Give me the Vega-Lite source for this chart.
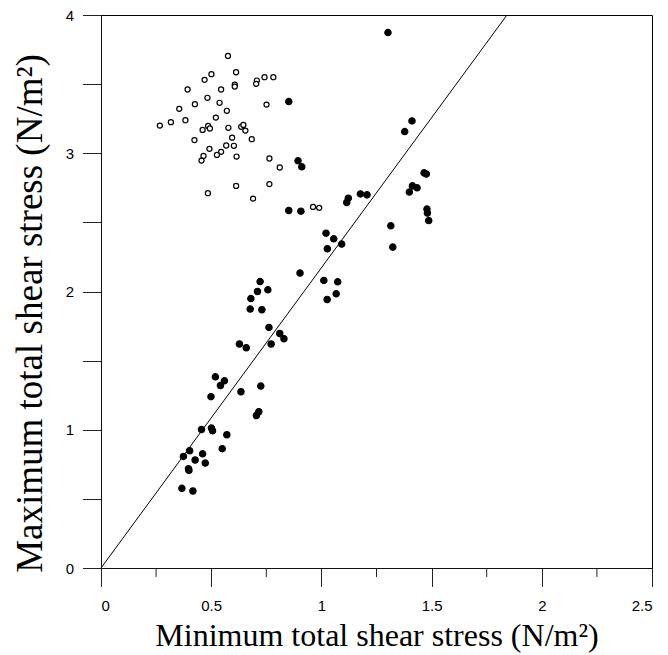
{
  "$schema": "https://vega.github.io/schema/vega-lite/v6.json",
  "autosize": {"type": "none"},
  "padding": {"left": 101, "top": 15, "right": 16, "bottom": 87},
  "width": 551,
  "height": 553,
  "background": "white",
  "config": {
    "view": {"stroke": "#000000", "strokeWidth": 1},
    "axis": {
      "grid": false,
      "domainColor": "#111111",
      "ticks": true,
      "tickColor": "#222222",
      "tickWidth": 1,
      "tickSize": 18.5,
      "labelColor": "#000000",
      "labelFont": "Liberation Sans",
      "labelFontSize": 15,
      "titleFont": "Liberation Serif",
      "titleFontSize": 32,
      "titleFontWeight": "normal",
      "titleColor": "#000000"
    }
  },
  "datasets": {
    "pts": [
      {"min": 0.576, "max": 3.704, "series": "open"},
      {"min": 0.613, "max": 3.586, "series": "open"},
      {"min": 0.501, "max": 3.572, "series": "open"},
      {"min": 0.470, "max": 3.531, "series": "open"},
      {"min": 0.607, "max": 3.496, "series": "open"},
      {"min": 0.607, "max": 3.482, "series": "open"},
      {"min": 0.707, "max": 3.526, "series": "open"},
      {"min": 0.704, "max": 3.502, "series": "open"},
      {"min": 0.742, "max": 3.550, "series": "open"},
      {"min": 0.782, "max": 3.550, "series": "open"},
      {"min": 0.393, "max": 3.461, "series": "open"},
      {"min": 0.545, "max": 3.461, "series": "open"},
      {"min": 0.483, "max": 3.401, "series": "open"},
      {"min": 0.538, "max": 3.365, "series": "open"},
      {"min": 0.426, "max": 3.355, "series": "open"},
      {"min": 0.355, "max": 3.321, "series": "open"},
      {"min": 0.571, "max": 3.307, "series": "open"},
      {"min": 0.751, "max": 3.352, "series": "open"},
      {"min": 0.521, "max": 3.258, "series": "open"},
      {"min": 0.267, "max": 3.200, "series": "open"},
      {"min": 0.317, "max": 3.225, "series": "open"},
      {"min": 0.383, "max": 3.239, "series": "open"},
      {"min": 0.486, "max": 3.198, "series": "open"},
      {"min": 0.494, "max": 3.179, "series": "open"},
      {"min": 0.461, "max": 3.169, "series": "open"},
      {"min": 0.578, "max": 3.184, "series": "open"},
      {"min": 0.636, "max": 3.191, "series": "open"},
      {"min": 0.646, "max": 3.205, "series": "open"},
      {"min": 0.655, "max": 3.164, "series": "open"},
      {"min": 0.424, "max": 3.095, "series": "open"},
      {"min": 0.595, "max": 3.113, "series": "open"},
      {"min": 0.684, "max": 3.102, "series": "open"},
      {"min": 0.568, "max": 3.056, "series": "open"},
      {"min": 0.603, "max": 3.054, "series": "open"},
      {"min": 0.492, "max": 3.032, "series": "open"},
      {"min": 0.545, "max": 3.010, "series": "open"},
      {"min": 0.526, "max": 2.988, "series": "open"},
      {"min": 0.615, "max": 2.976, "series": "open"},
      {"min": 0.465, "max": 2.981, "series": "open"},
      {"min": 0.456, "max": 2.947, "series": "open"},
      {"min": 0.764, "max": 2.962, "series": "open"},
      {"min": 0.811, "max": 2.897, "series": "open"},
      {"min": 0.613, "max": 2.764, "series": "open"},
      {"min": 0.764, "max": 2.777, "series": "open"},
      {"min": 0.485, "max": 2.711, "series": "open"},
      {"min": 0.690, "max": 2.672, "series": "open"},
      {"min": 0.962, "max": 2.612, "series": "open"},
      {"min": 0.990, "max": 2.605, "series": "open"},
      {"min": 0.852, "max": 3.374, "series": "filled"},
      {"min": 0.894, "max": 2.945, "series": "filled"},
      {"min": 0.911, "max": 2.902, "series": "filled"},
      {"min": 0.852, "max": 2.586, "series": "filled"},
      {"min": 0.907, "max": 2.581, "series": "filled"},
      {"min": 1.122, "max": 2.675, "series": "filled"},
      {"min": 1.115, "max": 2.644, "series": "filled"},
      {"min": 1.177, "max": 2.706, "series": "filled"},
      {"min": 1.207, "max": 2.699, "series": "filled"},
      {"min": 1.413, "max": 2.764, "series": "filled"},
      {"min": 1.434, "max": 2.750, "series": "filled"},
      {"min": 1.399, "max": 2.719, "series": "filled"},
      {"min": 1.479, "max": 2.596, "series": "filled"},
      {"min": 1.481, "max": 2.567, "series": "filled"},
      {"min": 1.487, "max": 2.513, "series": "filled"},
      {"min": 1.315, "max": 2.475, "series": "filled"},
      {"min": 1.324, "max": 2.321, "series": "filled"},
      {"min": 1.021, "max": 2.422, "series": "filled"},
      {"min": 1.056, "max": 2.381, "series": "filled"},
      {"min": 1.027, "max": 2.309, "series": "filled"},
      {"min": 1.092, "max": 2.343, "series": "filled"},
      {"min": 0.903, "max": 2.133, "series": "filled"},
      {"min": 1.011, "max": 2.080, "series": "filled"},
      {"min": 1.074, "max": 2.070, "series": "filled"},
      {"min": 1.067, "max": 1.983, "series": "filled"},
      {"min": 1.026, "max": 1.942, "series": "filled"},
      {"min": 1.411, "max": 3.234, "series": "filled"},
      {"min": 1.378, "max": 3.157, "series": "filled"},
      {"min": 1.466, "max": 2.858, "series": "filled"},
      {"min": 1.476, "max": 2.850, "series": "filled"},
      {"min": 1.302, "max": 3.873, "series": "filled"},
      {"min": 0.722, "max": 2.072, "series": "filled"},
      {"min": 0.710, "max": 2.000, "series": "filled"},
      {"min": 0.757, "max": 2.012, "series": "filled"},
      {"min": 0.680, "max": 1.949, "series": "filled"},
      {"min": 0.677, "max": 1.873, "series": "filled"},
      {"min": 0.730, "max": 1.868, "series": "filled"},
      {"min": 0.762, "max": 1.740, "series": "filled"},
      {"min": 0.811, "max": 1.696, "series": "filled"},
      {"min": 0.830, "max": 1.658, "series": "filled"},
      {"min": 0.772, "max": 1.620, "series": "filled"},
      {"min": 0.628, "max": 1.620, "series": "filled"},
      {"min": 0.659, "max": 1.593, "series": "filled"},
      {"min": 0.519, "max": 1.383, "series": "filled"},
      {"min": 0.560, "max": 1.354, "series": "filled"},
      {"min": 0.542, "max": 1.320, "series": "filled"},
      {"min": 0.725, "max": 1.316, "series": "filled"},
      {"min": 0.499, "max": 1.239, "series": "filled"},
      {"min": 0.635, "max": 1.275, "series": "filled"},
      {"min": 0.716, "max": 1.130, "series": "filled"},
      {"min": 0.705, "max": 1.103, "series": "filled"},
      {"min": 0.456, "max": 1.002, "series": "filled"},
      {"min": 0.501, "max": 1.012, "series": "filled"},
      {"min": 0.506, "max": 0.993, "series": "filled"},
      {"min": 0.571, "max": 0.964, "series": "filled"},
      {"min": 0.550, "max": 0.863, "series": "filled"},
      {"min": 0.402, "max": 0.848, "series": "filled"},
      {"min": 0.374, "max": 0.807, "series": "filled"},
      {"min": 0.461, "max": 0.826, "series": "filled"},
      {"min": 0.427, "max": 0.781, "series": "filled"},
      {"min": 0.473, "max": 0.759, "series": "filled"},
      {"min": 0.397, "max": 0.718, "series": "filled"},
      {"min": 0.399, "max": 0.706, "series": "filled"},
      {"min": 0.367, "max": 0.576, "series": "filled"},
      {"min": 0.417, "max": 0.557, "series": "filled"}
    ],
    "fit": [
      {"min": 0, "max": 0},
      {"min": 1.842, "max": 4}
    ],
    "xminor": [{"v": 0.25}, {"v": 0.75}, {"v": 1.25}, {"v": 1.75}, {"v": 2.25}]
  },
  "layer": [
    {
      "data": {"name": "pts"},
      "mark": {"type": "point", "shape": "circle", "filled": true, "stroke": "#000000", "strokeWidth": 1.2, "opacity": 1},
      "encoding": {
        "x": {
          "field": "min", "type": "quantitative",
          "scale": {"domain": [0, 2.5], "nice": false},
          "axis": {
            "values": [0, 0.5, 1, 1.5, 2, 2.5],
            "labelPadding": 12,
            "format": "~g",
            "title": "Minimum total shear stress (N/m²)",
            "titleY": 77,
            "titleBaseline": "alphabetic"
          }
        },
        "y": {
          "field": "max", "type": "quantitative",
          "scale": {"domain": [0, 4], "nice": false},
          "axis": {
            "values": [0, 0.5, 1, 1.5, 2, 2.5, 3, 3.5, 4],
            "labelPadding": 9,
            "format": "~g",
            "labelExpr": "datum.value % 1 === 0 ? datum.label : ''",
            "title": "Maximum total shear stress (N/m²)",
            "titleFontSize": 37,
            "titleX": -60,
            "titleY": 298,
            "titleBaseline": "alphabetic"
          }
        },
        "fill": {
          "field": "series", "type": "nominal",
          "scale": {"domain": ["filled", "open"], "range": ["#000000", "#ffffff"]},
          "legend": null
        },
        "size": {
          "field": "series", "type": "nominal",
          "scale": {"domain": ["filled", "open"], "range": [40, 26]},
          "legend": null
        }
      }
    },
    {
      "data": {"name": "fit"},
      "mark": {"type": "line", "color": "#000000", "strokeWidth": 1},
      "encoding": {
        "x": {"field": "min", "type": "quantitative"},
        "y": {"field": "max", "type": "quantitative"}
      }
    },
    {
      "data": {"name": "xminor"},
      "mark": {"type": "rule", "color": "#222222", "strokeWidth": 1, "clip": false},
      "encoding": {
        "x": {"field": "v", "type": "quantitative"},
        "y": {"datum": 0, "type": "quantitative"},
        "y2": {"datum": -0.065}
      }
    }
  ]
}
